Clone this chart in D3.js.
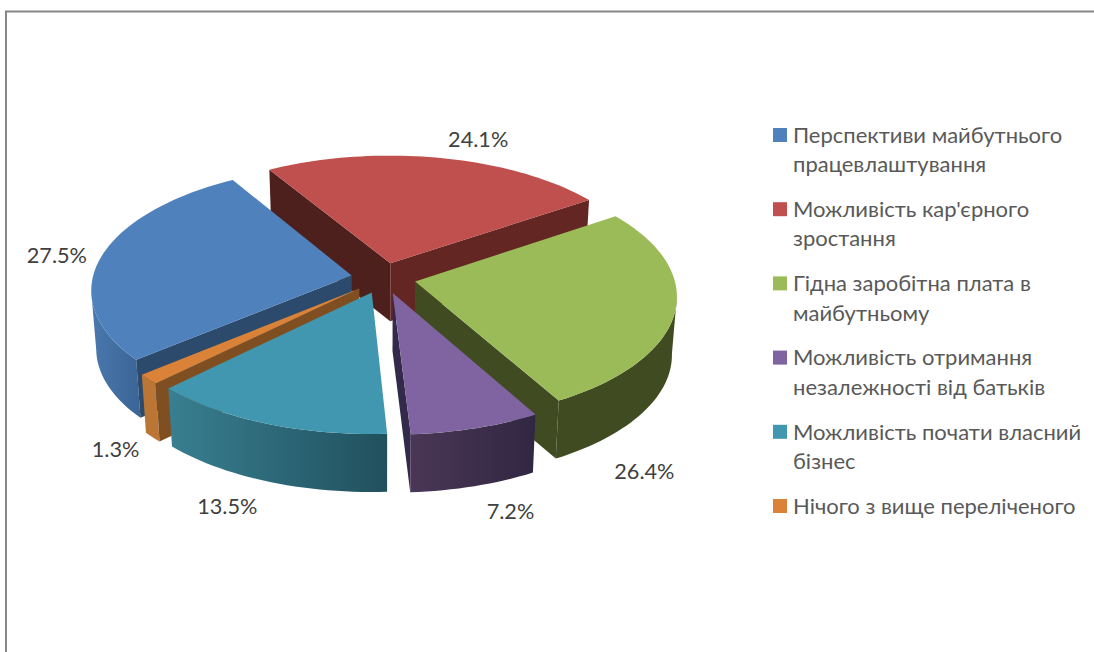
<!DOCTYPE html>
<html lang="uk">
<head>
<meta charset="utf-8">
<title>Pie 3D</title>
<script src="https://d3js.org/d3.v7.min.js"></script>
<style>
  html, body { margin: 0; padding: 0; background: #fff; overflow: hidden; }
  svg { display: block; }
  text { font-family: Lato, "Open Sans", "Noto Sans", sans-serif; }
  .dataLabel { font-size: 21.7px; fill: #404040; text-anchor: middle; }
  .legendText { font-size: 22px; fill: #595959; }
</style>
</head>
<body>
<script type="text/javascript">
var categories = [
  "Перспективи майбутнього працевлаштування",
  "Можливість кар'єрного зростання",
  "Гідна заробітна плата в майбутньому",
  "Можливість отримання незалежності від батьків",
  "Можливість почати власний бізнес",
  "Нічого з вище переліченого"
];
var values = [27.5, 24.1, 26.4, 7.2, 13.5, 1.3];

// colours: top face, cut faces (two sides of the wedge), outer wall gradient
var topColors   = ["#4f81bd", "#c0504d", "#9bbb59", "#8064a2", "#4197af", "#d98238"];
var wallStart   = ["#2c4a6b", "#4d1f1d", "#404b22", "#33294a", "#225260", "#7f4f22"];
var wallEnd     = ["#2c4a6b", "#632623", "#404b22", "#33294a", "#225260", "#7f4f22"];
var outerLeft   = ["#4a78ad", "#632623", "#404b22", "#4a3656", "#387f91", "#bb7535"];
var outerRight  = ["#3c6698", "#632623", "#404b22", "#312743", "#21505d", "#bb7535"];

// label nudges from the outer middle of each slice
var labelNudge = [[-45, 0], [39, -19], [-31, 161], [34.5, 83], [-38, 83], [-33, 70]];

// paint order, back to front
var drawOrder = [1, 0, 2, 5, 4, 3];

var w = 1094, h = 652;
var cx = 383.5, cy = 278, rx = 259, ry = 122.5, persp = 0.11, explode = 0.125, depth = 58, bottomScale = 0.983;

var svg = d3.select("body").append("svg").attr("width", w).attr("height", h);
var defs = svg.append("defs");

// chart frame, cut by the picture on the right and at the bottom
svg.append("path")
  .attr("d", "M6,652V11.5H1094")
  .attr("fill", "none")
  .attr("stroke", "#868686")
  .attr("stroke-width", 2);

var startAngle = 230 * Math.PI / 180;
var pie = d3.pie().sort(null).startAngle(startAngle).endAngle(startAngle + 2 * Math.PI);
var slices = pie(values);

// ground plane point to screen, with a little perspective; z=0 top, z=1 bottom
function project(px, py, z) {
  var s = 1 + persp * py;
  var sx = rx * px / s, sy = -ry * py / s;
  return [cx + sx * (z ? bottomScale : 1), cy + sy + (z ? depth : 0)];
}

function slicePoint(d, angle, radius, z) {
  var mid = (d.startAngle + d.endAngle) / 2;
  var px = explode * Math.sin(mid) + radius * Math.sin(angle);
  var py = explode * Math.cos(mid) + radius * Math.cos(angle);
  return project(px, py, z);
}

function arcAngles(d) {
  var n = Math.max(2, Math.ceil((d.endAngle - d.startAngle) / 0.03));
  return d3.range(n + 1).map(function(i) {
    return d.startAngle + (d.endAngle - d.startAngle) * i / n;
  });
}

var line = d3.line().curve(d3.curveLinear);

var pieG = svg.append("g");

drawOrder.forEach(function(i) {
  var d = slices[i];
  var angles = arcAngles(d);
  var g = pieG.append("g");

  var topArc = angles.map(function(a) { return slicePoint(d, a, 1, 0); });

  // outer wall, only the part turned to the viewer (perspective moves the silhouette)
  var front = angles.filter(function(a) { return Math.cos(a) < -persp; });
  if (front.length > 1) {
    var frontTop = front.map(function(a) { return slicePoint(d, a, 1, 0); });
    var frontBottom = front.map(function(a) { return slicePoint(d, a, 1, 1); });
    var ext = d3.extent(frontTop, function(p) { return p[0]; });
    var grad = defs.append("linearGradient")
      .attr("id", "outer" + i)
      .attr("gradientUnits", "userSpaceOnUse")
      .attr("x1", ext[0]).attr("x2", ext[1]).attr("y1", 0).attr("y2", 0);
    grad.append("stop").attr("offset", 0).attr("stop-color", outerLeft[i]);
    grad.append("stop").attr("offset", 1).attr("stop-color", outerRight[i]);

    g.append("path")
      .attr("d", line(frontTop.concat(frontBottom.reverse())) + "Z")
      .attr("fill", "url(#outer" + i + ")");
  }

  // cut faces that look toward the viewer
  var faces = [];
  if (Math.sin(d.startAngle) < 0) faces.push([d.startAngle, wallStart[i]]);
  if (Math.sin(d.endAngle) > 0) faces.push([d.endAngle, wallEnd[i]]);
  faces.forEach(function(c) {
    g.append("path")
      .attr("d", line([
        slicePoint(d, c[0], 0, 0), slicePoint(d, c[0], 1, 0),
        slicePoint(d, c[0], 1, 1), slicePoint(d, c[0], 0, 1)
      ]) + "Z")
      .attr("fill", c[1]);
  });

  // top face
  g.append("path")
    .attr("d", line([slicePoint(d, 0, 0, 0)].concat(topArc)) + "Z")
    .attr("fill", topColors[i]);
});

// data labels
svg.append("g").selectAll("text")
  .data(slices)
  .enter()
  .append("text")
  .attr("class", "dataLabel")
  .attr("dy", ".35em")
  .attr("x", function(d, i) {
    return slicePoint(d, (d.startAngle + d.endAngle) / 2, 1, 0)[0] + labelNudge[i][0];
  })
  .attr("y", function(d, i) {
    return slicePoint(d, (d.startAngle + d.endAngle) / 2, 1, 0)[1] + labelNudge[i][1];
  })
  .text(function(d) { return d.value.toFixed(1) + "%"; });

// legend
var legendY = d3.scalePoint().domain(categories).range([135, 506]);
var legendColor = d3.scaleOrdinal().domain(categories).range(topColors);
var legendX = 793, legendWrap = 296, legendLine = 29.5;

var legend = svg.append("g").selectAll("g")
  .data(categories)
  .enter()
  .append("g")
  .attr("transform", function(d) { return "translate(0," + legendY(d) + ")"; });

legend.append("rect")
  .attr("x", 773).attr("y", -7)
  .attr("width", 14).attr("height", 14)
  .attr("fill", function(d) { return legendColor(d); });

legend.append("text")
  .attr("class", "legendText")
  .attr("y", 0)
  .each(function(d) {
    // wrap on the measured width
    var text = d3.select(this);
    var words = d.split(" ");
    var cur = [];
    var lineNo = 0;
    var tspan = text.append("tspan").attr("x", legendX).attr("y", 0);
    words.forEach(function(word) {
      cur.push(word);
      tspan.text(cur.join(" "));
      if (tspan.node().getComputedTextLength() > legendWrap && cur.length > 1) {
        cur.pop();
        tspan.text(cur.join(" "));
        cur = [word];
        lineNo++;
        tspan = text.append("tspan").attr("x", legendX).attr("y", lineNo * legendLine).text(word);
      }
    });
    text.selectAll("tspan").attr("dy", ".35em");
  });
</script>
</body>
</html>
